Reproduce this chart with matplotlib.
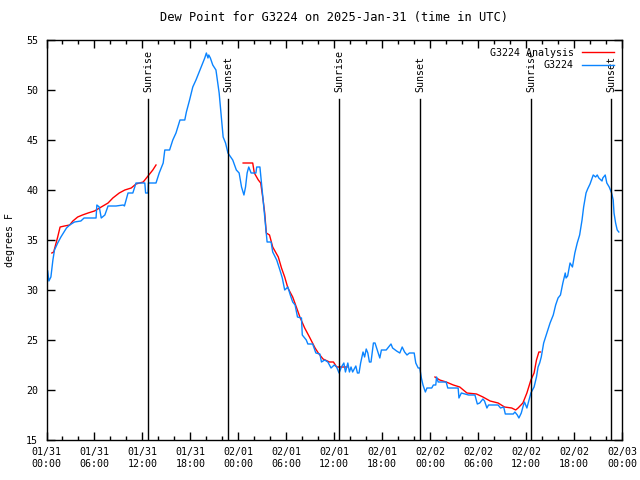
import numpy as np
import pandas as pd
import matplotlib
matplotlib.use('Agg')
import matplotlib.pyplot as plt
import matplotlib.dates as mdates

# hours after 2025-01-31 00:00 UTC
obs_hours = [0.15, 0.3, 0.55, 0.8, 1.0, 1.4, 1.8, 2.5, 2.9, 3.5, 4.3, 4.7, 6.2, 6.3, 6.6,
             6.85, 7.3, 7.7, 8.7, 9.6, 9.75, 10.2, 10.8, 11.2, 12.3, 12.4, 12.7, 12.75, 13.7,
             14.1, 14.6, 14.8, 15.4, 15.8, 16.2, 16.7, 17.3, 17.5, 17.9, 18.3, 18.7, 19.2,
             19.6, 19.8, 20.0, 20.2, 20.3, 20.5, 20.8, 21.2, 21.6, 21.9, 22.1, 22.4, 22.7,
             23.3, 23.75, 24.1, 24.4, 24.7, 24.9, 25.1, 25.3, 25.6, 26.2, 26.3, 26.7, 26.9,
             27.1, 27.3, 27.5, 27.6, 28.1, 28.3, 28.8, 29.2, 29.5, 29.8, 30.2, 30.5, 30.8,
             31.1, 31.4, 31.9, 32.0, 32.5, 32.7, 33.3, 33.7, 34.2, 34.4, 34.8, 35.2, 35.6,
             36.0, 36.3, 36.6, 36.9, 37.2, 37.4, 37.7, 37.9, 38.1, 38.3, 38.7, 38.9, 39.1,
             39.3, 39.6, 39.8, 40.0, 40.2, 40.4, 40.6, 40.9, 41.1, 41.5, 41.7, 41.9, 42.5,
             42.9, 43.1, 43.3, 43.8, 44.2, 44.5, 44.8, 45.1, 45.4, 46.0, 46.2, 46.5, 46.7,
             46.9, 47.1, 47.4, 47.6, 48.2, 48.4, 48.7, 48.8, 49.0, 50.0, 50.2, 51.5, 51.6,
             51.9, 52.8, 53.6, 53.9, 54.2, 54.6, 54.8, 55.1, 55.3, 56.5, 56.8, 57.2, 57.4,
             58.4, 58.6, 58.9, 59.1, 59.4, 59.6, 59.8, 60.1, 60.3, 60.6, 60.8, 61.0, 61.3,
             61.5, 61.7, 61.9, 62.2, 62.6, 63.0, 63.4, 63.7, 64.0, 64.3, 64.6, 64.9, 65.0,
             65.2, 65.5, 65.8, 66.1, 66.4, 66.7, 67.0, 67.2, 67.5, 67.7, 68.0, 68.4, 68.7,
             68.9, 69.1, 69.5, 69.6, 69.9, 70.1, 70.4, 70.7, 70.9, 71.0, 71.2, 71.4, 71.6]
obs_dewpt = [31.9, 30.9, 31.3, 33.0, 34.0, 34.7, 35.3, 36.2, 36.5, 36.8, 36.9, 37.2, 37.2, 38.5, 38.3,
             37.2, 37.5, 38.4, 38.4, 38.5, 38.4, 39.7, 39.7, 40.7, 40.7, 39.7, 39.7, 40.7, 40.7,
             41.7, 42.7, 44.0, 44.0, 45.0, 45.7, 47.0, 47.0, 47.8, 49.0, 50.3, 51.0, 52.0,
             52.8, 53.2, 53.7, 53.2, 53.5, 53.2, 52.5, 52.0, 49.7, 47.0, 45.3, 44.7, 43.7,
             43.0, 42.0, 41.7, 40.3, 39.5, 40.3, 41.7, 42.3, 41.7, 41.7, 42.3, 42.3, 40.7,
             39.0, 37.3, 35.7, 34.8, 34.8, 33.8, 33.0, 32.0, 31.2, 30.0, 30.3, 29.5, 28.8,
             28.5, 27.3, 27.2, 25.5, 25.0, 24.6, 24.6, 23.7, 23.6, 22.8, 23.0, 22.8, 22.2,
             22.5, 22.3, 21.7, 22.3, 22.7, 21.8, 22.7, 21.8, 22.3, 21.8, 22.4, 21.7, 21.7,
             22.7, 23.8, 23.3, 24.1, 23.7, 22.8, 22.8, 24.7, 24.7, 23.7, 23.2, 24.0, 24.0,
             24.4, 24.6, 24.2, 23.9, 23.7, 24.3, 23.8, 23.5, 23.7, 23.7, 22.7, 22.2, 22.2,
             21.2, 20.5, 19.8, 20.2, 20.2, 20.5, 20.5, 21.3, 20.8, 20.8, 20.2, 20.2, 19.2,
             19.7, 19.5, 19.5, 18.6, 18.7, 19.1, 18.9, 18.2, 18.5, 18.5, 18.2, 18.3, 17.6,
             17.6, 17.8, 17.5, 17.2, 17.7, 18.3, 18.8, 18.2, 18.8, 19.7, 20.0, 20.3, 21.3,
             22.3, 22.7, 23.3, 24.7, 25.7, 26.7, 27.5, 28.5, 29.2, 29.5, 30.7, 31.7, 31.2,
             31.4, 32.7, 32.3, 33.7, 34.7, 35.5, 37.0, 38.3, 39.7, 40.1, 40.6, 41.5, 41.3,
             41.5, 41.2, 40.9, 41.2, 41.5, 40.7, 40.3, 39.7, 39.0, 37.7, 36.7, 36.0, 35.8]

# analysis (gaps as NaN)
ana_hours = [0.67, 0.9, 1.4, 1.7, 2.25, 2.9, 3.3, 3.9, 4.5, 5.2, 6.0, 6.85, 7.7, 8.3, 9.1, 9.8,
             10.6, 11.2, 12.1, 12.7, 13.3, 13.7, 19.0,
             24.6, 25.8, 26.0, 26.5, 26.8, 27.1, 27.3, 27.5, 27.9, 28.3, 29.0, 29.4, 29.8,
             30.2, 30.8, 31.3, 31.7, 32.3, 32.9, 33.6, 34.0, 34.6, 35.4, 35.9, 36.3, 37.6, 43.0,
             48.6, 49.2, 50.0, 50.9, 51.7, 52.6, 53.8, 54.6, 55.5, 56.5, 57.3, 58.2, 58.7,
             59.0, 59.6, 60.1, 60.6, 61.0, 61.3, 61.6, 61.8]
ana_dewpt = [33.7, 33.8, 35.3, 36.3, 36.4, 36.5, 36.9, 37.3, 37.5, 37.7, 37.9, 38.3, 38.7, 39.2, 39.7, 40.0,
             40.2, 40.6, 40.8, 41.4, 42.0, 42.5, np.nan,
             42.7, 42.7, 41.7, 41.0, 40.7, 39.0, 37.7, 35.7, 35.5, 34.3, 33.3, 32.2, 31.3,
             30.2, 29.3, 28.2, 27.3, 26.2, 25.3, 24.2, 23.7, 23.1, 22.8, 22.8, 22.3, 22.3, np.nan,
             21.3, 21.0, 20.8, 20.5, 20.3, 19.7, 19.6, 19.3, 18.9, 18.7, 18.3, 18.2, 18.0,
             18.2, 18.7, 19.7, 21.0, 21.7, 23.0, 23.8, 23.8]

sunrise_hours = [12.7, 36.65, 60.6]
sunset_hours = [22.7, 46.75, 70.67]

start = pd.Timestamp('2025-01-31 00:00')
def to_time(hours):
    return start + pd.to_timedelta(hours, unit='h')

plt.rcParams['font.family'] = 'DejaVu Sans Mono'
plt.rcParams['font.size'] = 7.2

fig = plt.figure(figsize=(6.4, 4.8), dpi=100)
ax = fig.add_axes([46.5/640, 1 - 440/480, 575.5/640, 400/480])

ax.plot(to_time(ana_hours), ana_dewpt, color='#ff0000', lw=1.0, label='G3224 Analysis')
ax.plot(to_time(obs_hours), obs_dewpt, color='#0a84ff', lw=1.0, label='G3224')

for h in sunrise_hours:
    ax.plot([to_time(h), to_time(h)], [15, 49.1], color='black', lw=1.0)
    ax.text(to_time(h), 49.8, 'Sunrise', rotation=90, ha='center', va='bottom')
for h in sunset_hours:
    ax.plot([to_time(h), to_time(h)], [15, 49.1], color='black', lw=1.0)
    ax.text(to_time(h), 49.8, 'Sunset', rotation=90, ha='center', va='bottom')

ax.set_xlim(to_time(0), to_time(72))
ax.set_ylim(15, 55)
ax.set_yticks(range(15, 56, 5))
ax.xaxis.set_major_locator(mdates.HourLocator(byhour=[0, 6, 12, 18]))
ax.xaxis.set_minor_locator(mdates.HourLocator(byhour=range(0, 24, 2)))
ax.xaxis.set_major_formatter(mdates.DateFormatter('%m/%d\n%H:%M'))
ax.tick_params(which='both', direction='in', top=True, right=True, width=1)
ax.tick_params(which='major', length=6, pad=5)
ax.tick_params(which='minor', length=3)
ax.tick_params(axis='y', pad=6)
for s in ax.spines.values():
    s.set_linewidth(1.0)

ax.set_ylabel('degrees F')
ax.yaxis.set_label_coords(-0.055, 0.5)
ax.set_title('Dew Point for G3224 on 2025-Jan-31 (time in UTC)', pad=14)

ax.legend(loc='upper right', frameon=False, markerfirst=False, handlelength=3.2,
          borderaxespad=0.4, labelspacing=0.25, handletextpad=0.8)

fig.savefig('out.png', dpi=100)
